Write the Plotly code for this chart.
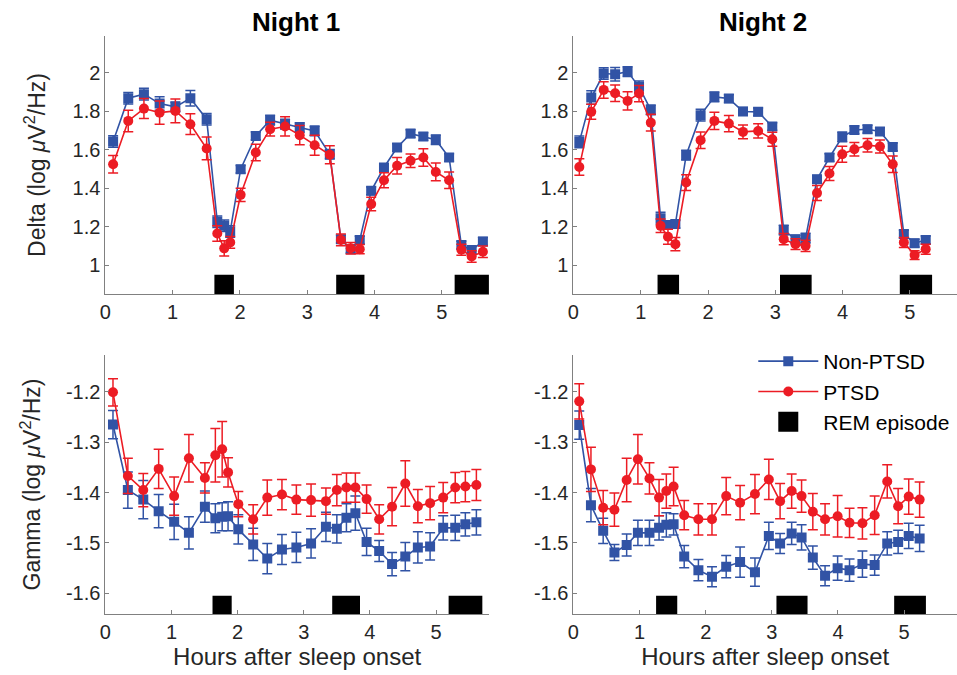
import plotly.graph_objects as go

# ---------------- data ----------------
x_n1 = [0.115, 0.34, 0.573, 0.806, 1.04, 1.263, 1.505, 1.663, 1.766, 1.855,
        2.01, 2.235, 2.448, 2.67, 2.888, 3.11, 3.335, 3.50, 3.645, 3.78,
        3.95, 4.14, 4.335, 4.535, 4.725, 4.91, 5.108, 5.29, 5.443, 5.61]
x_n2 = [0.088, 0.265, 0.45, 0.62, 0.805, 0.975, 1.15, 1.295, 1.405, 1.515,
        1.675, 1.89, 2.095, 2.31, 2.52, 2.745, 2.955, 3.125, 3.30, 3.45,
        3.62, 3.805, 3.995, 4.175, 4.37, 4.555, 4.745, 4.91, 5.07, 5.235]

delta_n1_non = [1.642, 1.867, 1.888, 1.839, 1.822, 1.867, 1.758, 1.225, 1.204, 1.175,
                1.498, 1.671, 1.753, 1.732, 1.715, 1.697, 1.576, 1.135, 1.083, 1.130,
                1.386, 1.507, 1.611, 1.683, 1.668, 1.651, 1.559, 1.104, 1.078, 1.123]
delta_n1_non_err = [0.03, 0.03, 0.03, 0.035, 0.025, 0.04, 0.03, 0.03, 0.03, 0.03,
                    0.02, 0.02, 0.025, 0.025, 0.025, 0.025, 0.025, 0.02, 0.02, 0.02,
                    0.02, 0.02, 0.02, 0.02, 0.02, 0.025, 0.02, 0.02, 0.02, 0.02]
delta_n1_ptsd = [1.524, 1.749, 1.813, 1.792, 1.801, 1.732, 1.606, 1.164, 1.087, 1.118,
                 1.365, 1.585, 1.706, 1.720, 1.675, 1.623, 1.573, 1.131, 1.088, 1.083,
                 1.317, 1.441, 1.516, 1.542, 1.559, 1.484, 1.441, 1.080, 1.045, 1.069]
delta_n1_ptsd_err = [0.045, 0.056, 0.052, 0.06, 0.062, 0.054, 0.059, 0.04, 0.04, 0.03,
                     0.034, 0.043, 0.036, 0.05, 0.05, 0.052, 0.047, 0.03, 0.03, 0.024,
                     0.035, 0.039, 0.043, 0.035, 0.045, 0.046, 0.043, 0.029, 0.03, 0.03]

delta_n2_non = [1.640, 1.870, 1.995, 1.991, 2.005, 1.926, 1.806, 1.244, 1.208, 1.213,
                1.571, 1.779, 1.874, 1.865, 1.798, 1.796, 1.720, 1.182, 1.135, 1.140,
                1.446, 1.559, 1.666, 1.702, 1.706, 1.694, 1.614, 1.161, 1.114, 1.131]
delta_n2_non_err = [0.03, 0.035, 0.03, 0.035, 0.025, 0.03, 0.025, 0.03, 0.02, 0.02,
                    0.025, 0.03, 0.025, 0.02, 0.02, 0.02, 0.02, 0.025, 0.02, 0.025,
                    0.02, 0.02, 0.025, 0.02, 0.02, 0.02, 0.02, 0.02, 0.02, 0.02]
delta_n2_ptsd = [1.510, 1.796, 1.910, 1.893, 1.853, 1.891, 1.740, 1.204, 1.147, 1.109,
                 1.429, 1.649, 1.749, 1.735, 1.692, 1.697, 1.654, 1.135, 1.109, 1.100,
                 1.374, 1.476, 1.576, 1.602, 1.623, 1.616, 1.524, 1.118, 1.052, 1.083]
delta_n2_ptsd_err = [0.043, 0.039, 0.043, 0.043, 0.047, 0.042, 0.043, 0.035, 0.039, 0.035,
                     0.041, 0.043, 0.045, 0.042, 0.036, 0.037, 0.036, 0.029, 0.028, 0.029,
                     0.039, 0.036, 0.042, 0.035, 0.035, 0.034, 0.043, 0.026, 0.023, 0.026]

gamma_n1_non = [-1.265, -1.395, -1.414, -1.437, -1.458, -1.480, -1.428, -1.451, -1.448, -1.447,
                -1.473, -1.503, -1.531, -1.513, -1.509, -1.501, -1.468, -1.472, -1.450, -1.441,
                -1.498, -1.516, -1.542, -1.527, -1.509, -1.507, -1.470, -1.470, -1.463, -1.459]
gamma_n1_non_err = [0.028, 0.036, 0.038, 0.033, 0.035, 0.032, 0.031, 0.029, 0.028, 0.029,
                    0.029, 0.032, 0.030, 0.030, 0.030, 0.029, 0.029, 0.028, 0.028, 0.034,
                    0.027, 0.021, 0.023, 0.028, 0.031, 0.027, 0.024, 0.025, 0.023, 0.025]
gamma_n1_ptsd = [-1.201, -1.367, -1.395, -1.353, -1.407, -1.332, -1.371, -1.326, -1.314, -1.360,
                 -1.423, -1.453, -1.410, -1.404, -1.414, -1.415, -1.417, -1.395, -1.390, -1.390,
                 -1.413, -1.453, -1.428, -1.382, -1.427, -1.421, -1.410, -1.390, -1.388, -1.385]
gamma_n1_ptsd_err = [0.027, 0.035, 0.033, 0.039, 0.038, 0.047, 0.030, 0.053, 0.055, 0.029,
                     0.025, 0.029, 0.035, 0.030, 0.029, 0.032, 0.026, 0.031, 0.029, 0.029,
                     0.028, 0.029, 0.038, 0.045, 0.033, 0.033, 0.030, 0.030, 0.030, 0.031]

gamma_n2_non = [-1.266, -1.425, -1.476, -1.519, -1.504, -1.480, -1.480, -1.470, -1.464, -1.463,
                -1.527, -1.554, -1.567, -1.547, -1.538, -1.558, -1.486, -1.501, -1.481, -1.489,
                -1.529, -1.565, -1.550, -1.554, -1.542, -1.544, -1.501, -1.498, -1.486, -1.491]
gamma_n2_non_err = [0.028, 0.033, 0.025, 0.016, 0.022, 0.025, 0.025, 0.024, 0.024, 0.021,
                    0.022, 0.021, 0.020, 0.022, 0.030, 0.028, 0.027, 0.020, 0.022, 0.025,
                    0.023, 0.020, 0.024, 0.022, 0.026, 0.020, 0.023, 0.023, 0.025, 0.026]
gamma_n2_ptsd = [-1.219, -1.354, -1.430, -1.434, -1.375, -1.334, -1.372, -1.410, -1.397, -1.388,
                 -1.445, -1.453, -1.453, -1.407, -1.420, -1.403, -1.374, -1.417, -1.397, -1.407,
                 -1.438, -1.453, -1.447, -1.460, -1.461, -1.445, -1.378, -1.427, -1.408, -1.414]
gamma_n2_ptsd_err = [0.035, 0.044, 0.034, 0.033, 0.043, 0.049, 0.031, 0.036, 0.034, 0.038,
                     0.029, 0.031, 0.031, 0.037, 0.034, 0.039, 0.040, 0.035, 0.034, 0.032,
                     0.036, 0.031, 0.041, 0.029, 0.031, 0.038, 0.033, 0.035, 0.035, 0.035]

rem_n1_start = [1.62, 3.43, 5.19]
rem_n1_end = [1.91, 3.85, 5.70]
rem_n2_start = [1.25, 3.07, 4.85]
rem_n2_end = [1.57, 3.54, 5.33]

delta_ticks = [1.0, 1.2, 1.4, 1.6, 1.8, 2.0]
delta_ticklabels = ["1", "1.2", "1.4", "1.6", "1.8", "2"]
gamma_ticks = [-1.6, -1.5, -1.4, -1.3, -1.2]
gamma_ticklabels = ["-1.6", "-1.5", "-1.4", "-1.3", "-1.2"]
x_ticks = [0, 1, 2, 3, 4, 5]

# ---------------- style ----------------
W, H = 957, 675
BLUE = "#3153a5"
RED = "#ec1c24"
FONT = "Liberation Sans"
TXT = "#262626"
AX = "#808080"

delta_range = [0.85, 2.19]
gamma_range = [-1.641, -1.127]
delta_rem_band = [0.85, 0.95]
gamma_rem_band = [-1.641, -1.605]


def px_x(a, b):
    return [a / W, b / W]


def px_y(top, bottom):
    return [1 - bottom / H, 1 - top / H]


fig = go.Figure()

panels = [
    ("x", "y", x_n1, delta_n1_non, delta_n1_non_err, delta_n1_ptsd, delta_n1_ptsd_err,
     rem_n1_start, rem_n1_end, delta_rem_band, False),
    ("x2", "y2", x_n2, delta_n2_non, delta_n2_non_err, delta_n2_ptsd, delta_n2_ptsd_err,
     rem_n2_start, rem_n2_end, delta_rem_band, False),
    ("x3", "y3", x_n1, gamma_n1_non, gamma_n1_non_err, gamma_n1_ptsd, gamma_n1_ptsd_err,
     rem_n1_start, rem_n1_end, gamma_rem_band, False),
    ("x4", "y4", x_n2, gamma_n2_non, gamma_n2_non_err, gamma_n2_ptsd, gamma_n2_ptsd_err,
     rem_n2_start, rem_n2_end, gamma_rem_band, True),
]

for xa, ya, xs, non, non_e, pt, pt_e, rs, re_, band, leg in panels:
    bx, by = [], []
    for s, e in zip(rs, re_):
        bx += [s, e, e, s, s, None]
        by += [band[0], band[0], band[1], band[1], band[0], None]
    fig.add_trace(go.Scatter(x=bx, y=by, xaxis=xa, yaxis=ya, mode="lines",
                             fill="toself", fillcolor="black",
                             line=dict(width=0, color="black"),
                             showlegend=False, hoverinfo="skip"))
    fig.add_trace(go.Scatter(
        x=xs, y=non, xaxis=xa, yaxis=ya, mode="lines+markers", name="Non-PTSD",
        line=dict(color=BLUE, width=1.6),
        marker=dict(symbol="square", size=10, color=BLUE),
        error_y=dict(type="data", array=non_e, color=BLUE, thickness=1.5, width=5),
        showlegend=leg, legendrank=1))
    fig.add_trace(go.Scatter(
        x=xs, y=pt, xaxis=xa, yaxis=ya, mode="lines+markers", name="PTSD",
        line=dict(color=RED, width=1.6),
        marker=dict(symbol="circle", size=10, color=RED),
        error_y=dict(type="data", array=pt_e, color=RED, thickness=1.5, width=5),
        showlegend=leg, legendrank=2))

fig.add_trace(go.Scatter(x=[None], y=[None], xaxis="x4", yaxis="y4", mode="markers",
                         name="REM episode",
                         marker=dict(symbol="square", size=16, color="black",
                                     line=dict(color="black", width=4)),
                         showlegend=True, legendrank=3))

common_x = dict(showline=True, linecolor=AX, linewidth=1, ticks="inside", ticklen=4,
                tickcolor=AX, tickvals=x_ticks, showgrid=False, zeroline=False,
                tickfont=dict(family=FONT, size=20, color=TXT), mirror=False)
common_y = dict(showline=True, linecolor=AX, linewidth=1, ticks="inside", ticklen=4,
                tickcolor=AX, showgrid=False, zeroline=False,
                tickfont=dict(family=FONT, size=20, color=TXT), mirror=False)

xtitle = dict(text="Hours after sleep onset", font=dict(family=FONT, size=24, color=TXT),
              standoff=4)

fig.update_layout(
    width=W, height=H,
    margin=dict(l=0, r=0, t=0, b=0),
    paper_bgcolor="white", plot_bgcolor="white",
    font=dict(family=FONT, color=TXT),
    xaxis=dict(domain=px_x(100, 486), range=[0, 5.7], anchor="y", **common_x),
    xaxis2=dict(domain=px_x(571, 957), range=[0, 5.7], anchor="y2", **common_x),
    xaxis3=dict(domain=px_x(100, 486), range=[0, 5.8], anchor="y3", title=xtitle, **common_x),
    xaxis4=dict(domain=px_x(571, 957), range=[0, 5.8], anchor="y4", title=xtitle, **common_x),
    yaxis=dict(domain=px_y(36, 294), range=delta_range, anchor="x",
               tickvals=delta_ticks, ticktext=delta_ticklabels,
               title=dict(text="Delta (log <i>μ</i>V<sup>2</sup>/Hz)",
                          font=dict(family=FONT, size=23, color=TXT), standoff=20),
               **common_y),
    yaxis2=dict(domain=px_y(36, 294), range=delta_range, anchor="x2",
                tickvals=delta_ticks, ticktext=delta_ticklabels, **common_y),
    yaxis3=dict(domain=px_y(355, 614), range=gamma_range, anchor="x3",
                tickvals=gamma_ticks, ticktext=gamma_ticklabels,
                title=dict(text="Gamma (log <i>μ</i>V<sup>2</sup>/Hz)",
                           font=dict(family=FONT, size=23, color=TXT), standoff=18),
                **common_y),
    yaxis4=dict(domain=px_y(355, 614), range=gamma_range, anchor="x4",
                tickvals=gamma_ticks, ticktext=gamma_ticklabels, **common_y),
    legend=dict(x=752 / W, y=1 - 341 / H, xanchor="left", yanchor="top",
                font=dict(family=FONT, size=21, color="black"),
                itemwidth=60, bgcolor="rgba(0,0,0,0)", tracegroupgap=0,
                traceorder="normal"),
    showlegend=True,
    annotations=[
        dict(text="<b>Night 1</b>", x=292 / W, y=1 - 22 / H, xref="paper", yref="paper",
             showarrow=False, font=dict(family=FONT, size=26, color="black"),
             xanchor="center", yanchor="middle"),
        dict(text="<b>Night 2</b>", x=762 / W, y=1 - 22 / H, xref="paper", yref="paper",
             showarrow=False, font=dict(family=FONT, size=26, color="black"),
             xanchor="center", yanchor="middle"),
    ],
)

fig.write_html("out.html", config={"displayModeBar": False},
               post_script="document.body.style.margin='0px';document.body.style.overflow='hidden';")
